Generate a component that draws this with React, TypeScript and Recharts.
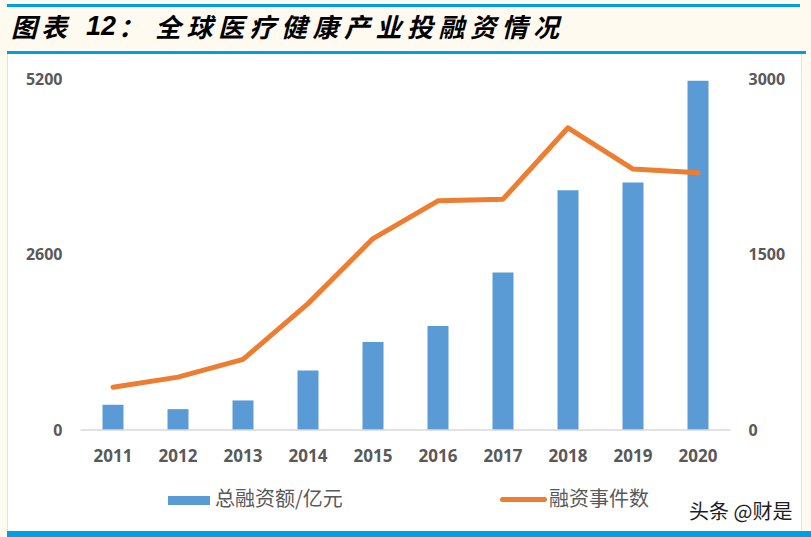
import { ComposedChart, Bar, Line, XAxis, YAxis } from 'recharts';

const years = ['2011', '2012', '2013', '2014', '2015', '2016', '2017', '2018', '2019', '2020'];
const totalFinancing = [374, 309, 438, 883, 1303, 1540, 2332, 3553, 3667, 5175];
const dealCount = [366, 452, 603, 1080, 1636, 1959, 1973, 2583, 2230, 2198];
const leftTicks = [0, 2600, 5200];
const rightTicks = [0, 1500, 3000];

const barName = '总融资额/亿元';
const lineName = '融资事件数';

const data = years.map((year, i) => ({
  year,
  total: totalFinancing[i],
  deals: dealCount[i],
}));

const BLUE = '#5B9BD5';
const ORANGE = '#ED7D31';
const GREY = '#595959';
const RULE = '#009FE3';
const CJK = '"Noto Sans CJK SC", "Noto Sans", sans-serif';

const tickStyle = { fontSize: 16, fontWeight: 700, fill: GREY, fontFamily: '"Noto Sans", sans-serif' };

const titleStyle = {
  position: 'absolute' as const,
  top: 8,
  fontFamily: CJK,
  fontSize: 26,
  fontWeight: 700,
  fontStyle: 'italic',
  color: '#000',
  whiteSpace: 'nowrap' as const,
  lineHeight: '36px',
};

export default function App() {
  return (
    <div style={{ position: 'absolute', left: 0, top: 0, width: 811, height: 537, background: '#FFFAF0', overflow: 'hidden' }}>
      {/* title band */}
      <div style={{ position: 'absolute', left: 7, top: 4, width: 793, height: 3, background: RULE }} />
      <span style={{ ...titleStyle, left: 11, letterSpacing: 4 }}>图表</span>
      <span style={{ ...titleStyle, left: 86, fontFamily: '"Liberation Sans", Arial, sans-serif', fontSize: 27 }}>12</span>
      <span style={{ ...titleStyle, left: 118 }}>：</span>
      <span style={{ ...titleStyle, left: 155, letterSpacing: 5.5 }}>全球医疗健康产业投融资情况</span>
      <div style={{ position: 'absolute', left: 7, top: 51, width: 799, height: 3, background: RULE }} />

      {/* white chart panel */}
      <div
        style={{
          position: 'absolute',
          left: 7,
          top: 54,
          width: 793,
          height: 476,
          background: '#fff',
          borderLeft: '1px solid #E3E3E3',
          borderRight: '1px solid #E3E3E3',
        }}
      />
      <div style={{ position: 'absolute', left: 7, top: 531, width: 804, height: 6, background: RULE }} />

      <div style={{ position: 'absolute', left: 0, top: 0 }}>
        <ComposedChart
          width={811}
          height={537}
          data={data}
          margin={{ top: 79, right: 20.5, bottom: 77, left: 20.5 }}
        >
          <XAxis
            dataKey="year"
            height={30}
            axisLine={{ stroke: '#D9D9D9', strokeWidth: 1.5 }}
            tickLine={false}
            tickSize={0}
            tickMargin={20}
            tick={{ ...tickStyle, fontSize: 17 }}
            interval={0}
          />
          <YAxis
            yAxisId="left"
            orientation="left"
            width={60}
            domain={[0, 5200]}
            ticks={leftTicks}
            axisLine={false}
            tickLine={false}
            tickSize={0}
            tickMargin={18}
            tick={tickStyle}
          />
          <YAxis
            yAxisId="right"
            orientation="right"
            width={60}
            domain={[0, 3000]}
            ticks={rightTicks}
            axisLine={false}
            tickLine={false}
            tickSize={0}
            tickMargin={18}
            tick={tickStyle}
          />
          <Bar yAxisId="left" dataKey="total" name={barName} fill={BLUE} barSize={21} isAnimationActive={false} />
          <Line
            yAxisId="right"
            dataKey="deals"
            name={lineName}
            type="linear"
            stroke={ORANGE}
            strokeWidth={5}
            strokeLinecap="round"
            strokeLinejoin="round"
            dot={false}
            activeDot={false}
            isAnimationActive={false}
          />
        </ComposedChart>
      </div>

      {/* legend */}
      <div style={{ position: 'absolute', left: 168, top: 496, width: 42, height: 9, background: BLUE }} />
      <div style={{ position: 'absolute', left: 215, top: 485, fontFamily: CJK, fontSize: 20, color: GREY, lineHeight: '26px', whiteSpace: 'nowrap' }}>
        {barName}
      </div>
      <div style={{ position: 'absolute', left: 500, top: 497, width: 47, height: 5, borderRadius: 3, background: ORANGE }} />
      <div style={{ position: 'absolute', left: 549, top: 485, fontFamily: CJK, fontSize: 20, color: GREY, lineHeight: '26px', whiteSpace: 'nowrap' }}>
        {lineName}
      </div>

      {/* watermark */}
      <div
        style={{
          position: 'absolute',
          left: 689,
          top: 498,
          fontFamily: CJK,
          fontSize: 20,
          color: '#1E1E1E',
          lineHeight: '26px',
          whiteSpace: 'nowrap',
          textShadow: '0 0 2px #fff, 0 0 2px #fff',
        }}
      >
        头条 @财是
      </div>
    </div>
  );
}
